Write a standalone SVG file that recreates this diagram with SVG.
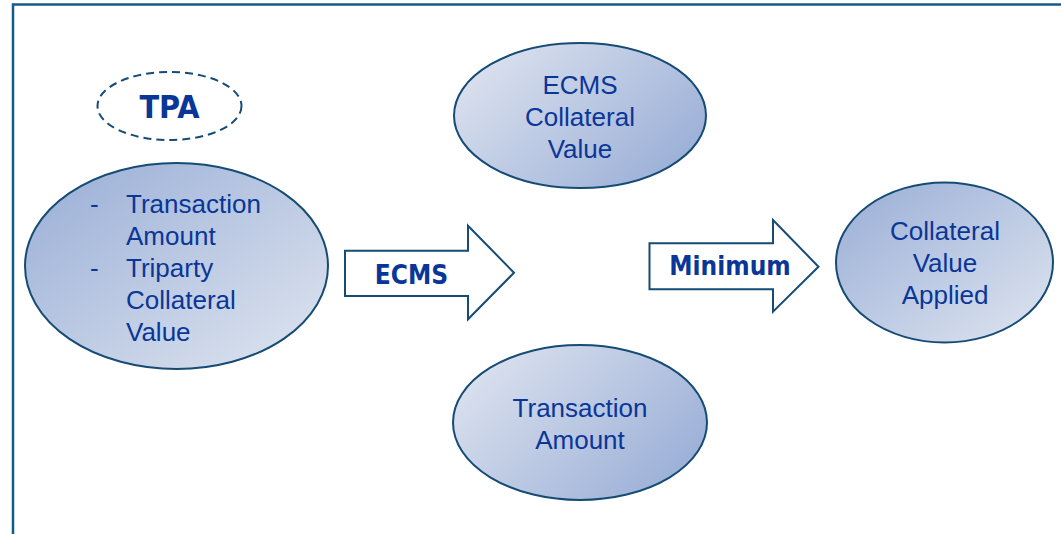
<svg xmlns="http://www.w3.org/2000/svg" width="1061" height="534" viewBox="0 0 1061 534">
<defs>
<linearGradient id="gDark" x1="0" y1="0" x2="1" y2="1">
<stop offset="0" stop-color="#98ADD6"/>
<stop offset="1" stop-color="#E0E6F0"/>
</linearGradient>
<linearGradient id="gLight" x1="0" y1="0.2" x2="1" y2="0.8">
<stop offset="0" stop-color="#DDE3EF"/>
<stop offset="1" stop-color="#98ADD6"/>
</linearGradient>
<style>
.node{stroke:#154B74;stroke-width:2}
.t{font-family:"Liberation Sans",Arial,sans-serif;font-size:26px;fill:#0A3697}
.b{font-family:"DejaVu Sans",Verdana,sans-serif;font-weight:bold;font-stretch:condensed;fill:#0A3697}
.arrow{fill:#FFFFFF;stroke:#154B74;stroke-width:2;stroke-linejoin:miter}
</style>
</defs>
<rect x="0" y="0" width="1061" height="534" fill="#FFFFFF"/>
<path d="M13 534 V4.5 H1061" fill="none" stroke="#155A8C" stroke-width="2.5"/>
<g id="tpa">
<ellipse cx="169.5" cy="106" rx="72" ry="34" fill="none" stroke="#154B74" stroke-width="2" stroke-dasharray="8,5"/>
<text class="b" x="169.5" y="118" font-size="32" text-anchor="middle">TPA</text>
</g>
<g id="tpa-inputs">
<ellipse class="node" cx="176.5" cy="266" rx="151.5" ry="103" fill="url(#gDark)"/>
<text class="t" x="90" y="213">-</text>
<text class="t" x="126" y="213">Transaction</text>
<text class="t" x="126" y="245">Amount</text>
<text class="t" x="90" y="277">-</text>
<text class="t" x="126" y="277">Triparty</text>
<text class="t" x="126" y="309">Collateral</text>
<text class="t" x="126" y="341">Value</text>
</g>
<g id="ecms-collateral">
<ellipse class="node" cx="580" cy="115.5" rx="126" ry="72.5" fill="url(#gLight)"/>
<text class="t" x="580" y="94" text-anchor="middle">ECMS</text>
<text class="t" x="580" y="126" text-anchor="middle">Collateral</text>
<text class="t" x="580" y="158" text-anchor="middle">Value</text>
</g>
<g id="transaction-amount">
<ellipse class="node" cx="580" cy="422.5" rx="127" ry="77.5" fill="url(#gLight)"/>
<text class="t" x="580" y="417" text-anchor="middle">Transaction</text>
<text class="t" x="580" y="449" text-anchor="middle">Amount</text>
</g>
<g id="collateral-applied">
<ellipse class="node" cx="944.5" cy="262.5" rx="108.5" ry="80" fill="url(#gDark)"/>
<text class="t" x="945" y="240" text-anchor="middle">Collateral</text>
<text class="t" x="945" y="272" text-anchor="middle">Value</text>
<text class="t" x="945" y="304" text-anchor="middle">Applied</text>
</g>
<g id="connectors">
<g id="arrow-ecms">
<path class="arrow" d="M345 250.7 H468 V225.7 L514 272.7 L468 319.3 V296 H345 Z"/>
<text class="b" x="411.5" y="284" font-size="26" text-anchor="middle">ECMS</text>
</g>
<g id="arrow-minimum">
<path class="arrow" d="M649.5 243.3 H773 V220 L818.5 266.7 L773 311.7 V289.3 H649.5 Z"/>
<text class="b" x="730" y="275" font-size="26" text-anchor="middle">Minimum</text>
</g>
</g>
</svg>
